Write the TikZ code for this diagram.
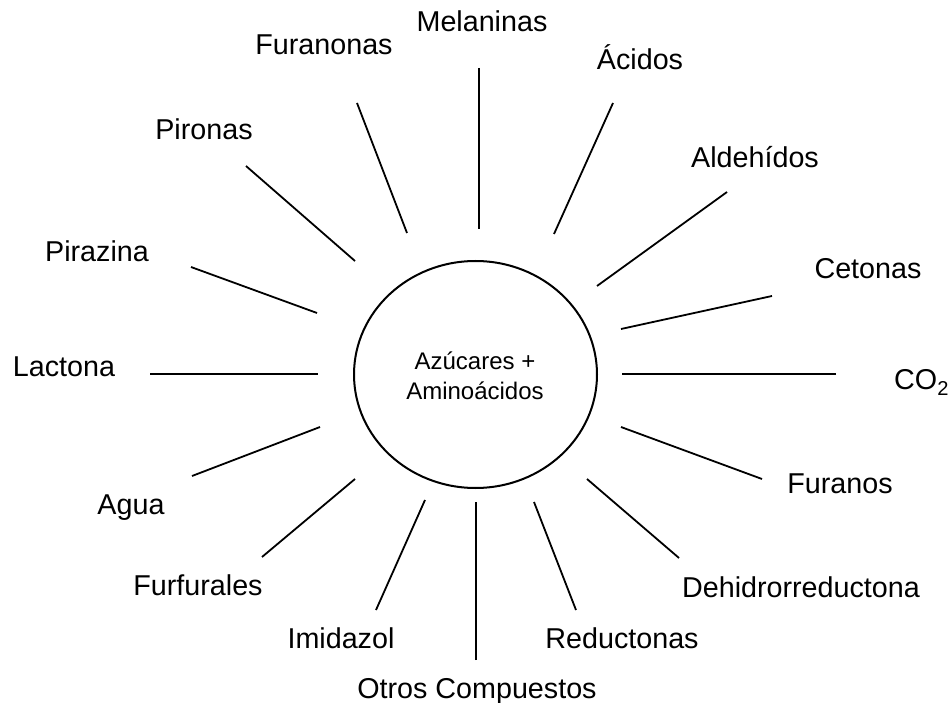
\documentclass[tikz,border=0pt]{standalone}
\usepackage{fontspec}
\setmainfont{Liberation Sans}
\begin{document}
\begin{tikzpicture}[x=1pt,y=-1pt,
  lbl/.style={anchor=base,inner sep=0pt,font=\fontsize{28.7}{32}\selectfont},
  ray/.style={line width=1.8pt,black}]
\useasboundingbox (0,0) rectangle (951,703);
% centre
\draw[line width=2pt] (475.5,374.5) ellipse [x radius=121.5, y radius=113.5];
\node[align=center,inner sep=0pt,font=\fontsize{24}{30}\selectfont] (c) at (475,376) {Azúcares +\\Aminoácidos};
% labels
\node[lbl] (mel) at (482,32) {Melaninas};
\node[lbl] (fur) at (324,55) {Furanonas};
\node[lbl] (aci) at (640,70) {Ácidos};
\node[lbl] (pir) at (204,140) {Pironas};
\node[lbl] (ald) at (755,168) {Aldehídos};
\node[lbl] (pza) at (97,262) {Pirazina};
\node[lbl] (cet) at (868,279) {Cetonas};
\node[lbl] (lac) at (64,377) {Lactona};
\node[lbl,anchor=base west] (co2) at (894,390) {CO\textsubscript{2}};
\node[lbl] (agu) at (131,514) {Agua};
\node[lbl] (fna) at (840,493) {Furanos};
\node[lbl] (ffa) at (198,595) {Furfurales};
\node[lbl] (deh) at (801,597) {Dehidrorreductona};
\node[lbl] (imi) at (341,648) {Imidazol};
\node[lbl] (red) at (622,648) {Reductonas};
\node[lbl] (otr) at (477,698) {Otros Compuestos};
% ray end points (outer, inner)
\coordinate (mel-out) at (479,68);  \coordinate (mel-in) at (479,229);
\coordinate (fur-out) at (357,103); \coordinate (fur-in) at (407,233);
\coordinate (aci-out) at (613,103); \coordinate (aci-in) at (554,234);
\coordinate (pir-out) at (246,166); \coordinate (pir-in) at (355,261);
\coordinate (ald-out) at (727,192); \coordinate (ald-in) at (597,286);
\coordinate (pza-out) at (191,267); \coordinate (pza-in) at (317,313);
\coordinate (cet-out) at (772,296); \coordinate (cet-in) at (621,329);
\coordinate (lac-out) at (150,374); \coordinate (lac-in) at (318,374);
\coordinate (co2-out) at (836,374); \coordinate (co2-in) at (622,374);
\coordinate (agu-out) at (192,476); \coordinate (agu-in) at (320,427);
\coordinate (fna-out) at (762,479); \coordinate (fna-in) at (621,427);
\coordinate (ffa-out) at (262,557); \coordinate (ffa-in) at (355,479);
\coordinate (deh-out) at (679,558); \coordinate (deh-in) at (587,479);
\coordinate (imi-out) at (376,610); \coordinate (imi-in) at (425,500);
\coordinate (otr-out) at (476,660); \coordinate (otr-in) at (476,502);
\coordinate (red-out) at (576,610); \coordinate (red-in) at (534,502);
\foreach \n in {mel,fur,aci,pir,ald,pza,cet,lac,co2,agu,fna,ffa,deh,imi,otr,red}
  \draw[ray] (\n-out) -- (\n-in);
\end{tikzpicture}
\end{document}
